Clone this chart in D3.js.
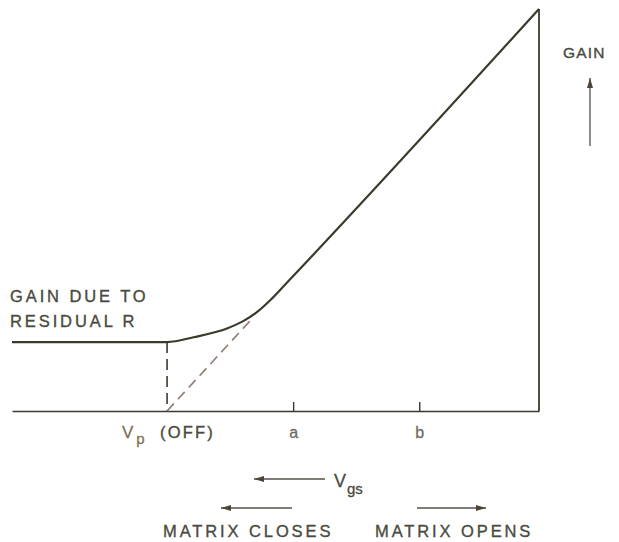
<!DOCTYPE html>
<html>
<head>
<meta charset="utf-8">
<script src="https://cdn.jsdelivr.net/npm/d3@7"></script>
<style>
  html, body { margin: 0; padding: 0; background: #fff; }
  svg { display: block; }
  text { font-family: "Liberation Sans", Arial, Helvetica, sans-serif; }
</style>
</head>
<body>
<svg id="chart" width="619" height="542"></svg>
<script>
// Gate-source voltage (Vp = 0) against gain, arbitrary units
const vgsRange = [-1.23, 2.95];
const gainRange = [0, 5.83];
const residualGain = 1;
// gain along Vgs: residual plateau, knee, then the linear region
const curveVgs  = [-1.23, 0, 0.21, 0.48, 0.60, 0.71, 0.82, 0.95, 2.95];
const curveGain = [1, 1, 1.07, 1.20, 1.30, 1.43, 1.61, 1.86, 5.83];
// extrapolated linear gain back to pinch-off
const asymptoteVgs  = [0, 0.68];
const asymptoteGain = [0, 1.35];
const tickValues = [1, 2];
const tickLabels = ["a", "b"];

const ink = "#3b3a2c";
const textInk = "#4a4a3e";
const dashInk = "#8e7c72";

const svg = d3.select("#chart");
const x = d3.scaleLinear().domain(vgsRange).range([12, 539]);
const y = d3.scaleLinear().domain(gainRange).range([411, 9]);

// baseline with upward ticks at a and b
const axis = d3.axisBottom(x)
  .tickValues(tickValues)
  .tickSize(-9)
  .tickSizeOuter(0)
  .tickFormat((d, i) => tickLabels[i]);
const ax = svg.append("g").attr("transform", `translate(0,${y(0)})`).call(axis);
ax.select(".domain").attr("stroke", ink).attr("stroke-width", 1.6);
ax.selectAll(".tick line").attr("stroke", ink).attr("stroke-width", 1.4);
ax.selectAll(".tick text")
  .attr("y", 27).attr("dy", 0)
  .attr("fill", "#6e6c62")
  .attr("stroke", "#6e6c62").attr("stroke-width", 0.3)
  .style("font-size", "16px")
  .style("font-family", "'Liberation Sans', Arial, sans-serif");

// right-hand vertical at the maximum gain
svg.append("line")
  .attr("x1", x(vgsRange[1])).attr("x2", x(vgsRange[1]))
  .attr("y1", y(0)).attr("y2", y(gainRange[1]))
  .attr("stroke", ink).attr("stroke-width", 1.8);

// gain curve
const curvePts = curveVgs.map((v, i) => [v, curveGain[i]]);
svg.append("path")
  .datum(curvePts)
  .attr("fill", "none")
  .attr("stroke", ink)
  .attr("stroke-width", 2.2)
  .attr("stroke-linejoin", "round")
  .attr("d", d3.line().x(d => x(d[0])).y(d => y(d[1])).curve(d3.curveMonotoneX));

// dashed drop from Vp and extrapolated line
svg.append("line")
  .attr("x1", x(0)).attr("x2", x(0))
  .attr("y1", y(residualGain)).attr("y2", y(0))
  .attr("stroke", ink).attr("stroke-width", 1.6)
  .attr("stroke-dasharray", "11,6");
svg.append("line")
  .attr("x1", x(asymptoteVgs[0])).attr("x2", x(asymptoteVgs[1]))
  .attr("y1", y(asymptoteGain[0])).attr("y2", y(asymptoteGain[1]))
  .attr("stroke", dashInk).attr("stroke-width", 1.6)
  .attr("stroke-dasharray", "10,6");

// arrowhead marker
const defs = svg.append("defs");
defs.append("marker")
  .attr("id", "head")
  .attr("viewBox", "0 0 10 6")
  .attr("refX", 10).attr("refY", 3)
  .attr("markerWidth", 10).attr("markerHeight", 6)
  .attr("markerUnits", "userSpaceOnUse")
  .attr("orient", "auto")
  .append("path").attr("d", "M0,0 L10,3 L0,6 Z").attr("fill", "#4a4536");

function arrow(x1, y1, x2, y2) {
  svg.append("line")
    .attr("x1", x1).attr("y1", y1).attr("x2", x2).attr("y2", y2)
    .attr("stroke", "#55524a").attr("stroke-width", 1.3)
    .attr("marker-end", "url(#head)");
}

function label(txt, tx, ty, opts = {}) {
  const fill = opts.fill || textInk;
  return svg.append("text")
    .attr("x", tx).attr("y", ty)
    .attr("fill", fill)
    .attr("stroke", fill).attr("stroke-width", 0.35)
    .attr("text-anchor", opts.anchor || "start")
    .style("font-size", (opts.size || 16.5) + "px")
    .style("letter-spacing", (opts.spacing ?? 2.9) + "px")
    .text(txt);
}

// left annotation
label("GAIN DUE TO", 10, 302);
label("RESIDUAL R", 10, 327);

// pinch-off label
const vp = svg.append("text").attr("x", 122).attr("y", 438)
  .attr("fill", "#7d7352").attr("stroke", "#7d7352").attr("stroke-width", 0.3)
  .style("font-size", "17px");
vp.append("tspan").text("V");
vp.append("tspan").attr("dx", 3).attr("dy", 6).style("font-size", "15px").text("p");
label("(OFF)", 160, 438, { spacing: 2.2 });

// gain arrow
label("GAIN", 563, 58, { size: 15.5, spacing: 1.2 });
arrow(590, 146, 590, 78);

// Vgs direction
arrow(325, 479, 254, 479);
const vgs = svg.append("text").attr("x", 334).attr("y", 487)
  .attr("fill", textInk).attr("stroke", textInk).attr("stroke-width", 0.3)
  .style("font-size", "18px");
vgs.append("tspan").text("V");
vgs.append("tspan").attr("dx", 1).attr("dy", 7).style("font-size", "15px").text("gs");

// matrix direction
arrow(292, 508, 221, 508);
arrow(417, 508, 486, 508);
label("MATRIX CLOSES", 163, 537);
label("MATRIX OPENS", 375, 537);
</script>
</body>
</html>
